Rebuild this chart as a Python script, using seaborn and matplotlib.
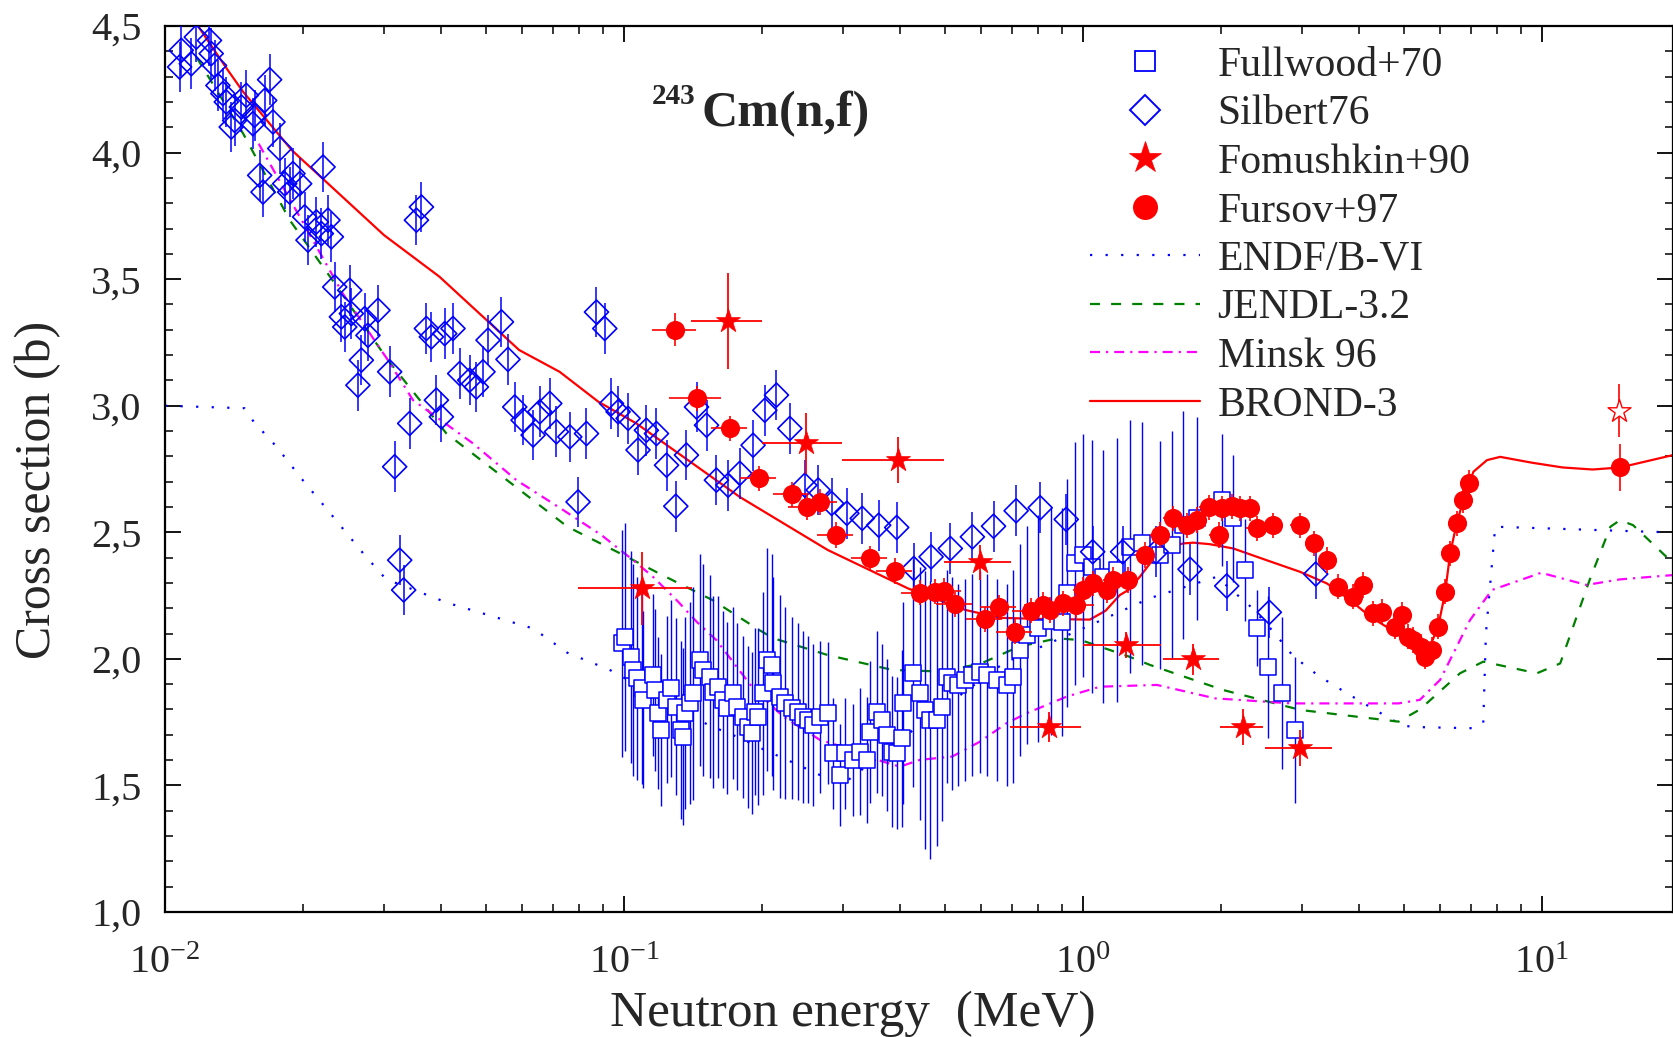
import numpy as np
import matplotlib
matplotlib.use("Agg")
import matplotlib.pyplot as plt
import seaborn as sns
from matplotlib.lines import Line2D
from matplotlib.ticker import LogLocator, MultipleLocator, FuncFormatter, NullFormatter

# ---------------------------------------------------------------- data (MeV, barn)
# Evaluated cross sections
endf_E = [0.01, 0.0149, 0.0156, 0.0175, 0.0201, 0.0223, 0.02465, 0.02725, 0.0303, 0.0413,
          0.0634, 0.0753, 0.0870, 0.0939, 0.1526, 0.1759, 0.2027, 0.2337, 0.2695, 0.3098,
          0.358, 0.441, 0.672, 1.00, 1.40, 1.956, 2.33, 2.60, 2.87, 3.26, 3.76, 4.33, 4.99,
          5.5, 7.09, 7.45, 7.55, 7.91, 17.2, 19.3]
endf_xs = [3.0, 2.99, 2.937, 2.838, 2.699, 2.601, 2.505, 2.409, 2.315, 2.221,
           2.12, 2.024, 1.978, 1.953, 1.739, 1.693, 1.64, 1.59, 1.538, 1.525,
           1.611, 1.739, 1.983, 2.12, 2.24, 2.324, 2.203, 2.107, 2.011, 1.933, 1.864, 1.798, 1.735,
           1.730, 1.726, 1.746, 2.10, 2.522, 2.502, 2.50]

jendl_E = [0.0117, 0.0148, 0.0187, 0.0229, 0.0306, 0.041, 0.0753, 0.098, 0.1215, 0.156,
           0.197, 0.212, 0.278, 0.385, 0.494, 0.60, 0.725, 0.879, 0.99, 1.26, 1.40, 2.02,
           2.98, 4.87, 5.42, 6.63, 7.45, 9.75, 10.96, 12.7, 14.1, 14.8, 15.8, 19.0, 19.3]
jendl_xs = [4.378, 4.075, 3.733, 3.509, 3.18, 2.891, 2.522, 2.417, 2.33, 2.232,
            2.114, 2.081, 2.015, 1.956, 1.95, 1.982, 2.048, 2.081, 2.074, 2.009, 1.976, 1.877,
            1.798, 1.752, 1.80, 1.943, 1.989, 1.943, 1.982, 2.311, 2.522, 2.548, 2.528, 2.39, 2.38]

minsk_E = [0.016, 0.0244, 0.0306, 0.0347, 0.0469, 0.0583, 0.0737, 0.0893, 0.1047, 0.1157,
           0.1312, 0.1439, 0.159, 0.1759, 0.1911, 0.2223, 0.2672, 0.2906, 0.3377, 0.399,
           0.4413, 0.5187, 0.5965, 0.682, 0.754, 0.922, 1.089, 1.45, 1.94, 2.85, 4.87, 5.42,
           6.0, 6.97, 7.78, 9.96, 12.5, 14.8, 19.3]
minsk_xs = [4.035, 3.443, 3.18, 3.022, 2.851, 2.706, 2.588, 2.489, 2.39, 2.324,
            2.226, 2.147, 2.074, 1.969, 1.884, 1.772, 1.68, 1.66, 1.614, 1.574,
            1.601, 1.614, 1.673, 1.746, 1.785, 1.851, 1.89, 1.897, 1.844, 1.824, 1.824, 1.838,
            1.917, 2.153, 2.272, 2.340, 2.292, 2.314, 2.331]

brond_E = [0.0118, 0.01365, 0.0148, 0.0189, 0.0300, 0.0396, 0.0591, 0.0724, 0.0879, 0.1064,
           0.1786, 0.278, 0.416, 0.555, 0.66, 0.80, 1.035, 1.12, 1.203, 1.256, 1.33, 1.40,
           1.47, 1.55, 1.654, 1.74, 1.89, 2.126, 2.51, 2.97, 3.40, 3.82, 4.23, 4.83, 5.42,
           5.70, 5.94, 6.15, 6.31, 6.52, 6.74, 7.09, 7.59, 8.11, 9.5, 11.1, 12.9, 14.8, 19.3]
brond_xs = [4.50, 4.33, 4.24, 4.009, 3.674, 3.51, 3.22, 3.134, 3.016, 2.930,
            2.640, 2.430, 2.278, 2.193, 2.162, 2.158, 2.155, 2.19, 2.252, 2.272, 2.324, 2.377,
            2.423, 2.443, 2.456, 2.459, 2.453, 2.436, 2.39, 2.344, 2.298, 2.232, 2.166, 2.101, 2.022,
            2.048, 2.127, 2.259, 2.417, 2.535, 2.627, 2.739, 2.785, 2.798, 2.775, 2.756, 2.748, 2.756, 2.805]

# Measurements
fullwood_E = [0.0988, 0.1004, 0.1038, 0.1047, 0.1065, 0.1092, 0.1101, 0.1157, 0.1167, 0.1187,
              0.1207, 0.1238, 0.1269, 0.1301, 0.1334, 0.1345, 0.1357, 0.1391, 0.1414, 0.1463,
              0.1487, 0.1538, 0.1564, 0.1604, 0.1644, 0.1673, 0.1729, 0.1759, 0.1818, 0.1865,
              0.1897, 0.1928, 0.1961, 0.2011, 0.2045, 0.2097, 0.2113, 0.2186, 0.2242, 0.2318,
              0.2396, 0.2457, 0.2519, 0.2583, 0.2672, 0.2786, 0.2857, 0.2954, 0.3029, 0.3157,
              0.3265, 0.3377, 0.3433, 0.3551, 0.3641, 0.3734, 0.3828, 0.3926, 0.4026, 0.4058,
              0.4267, 0.4413, 0.4525, 0.4640, 0.4798, 0.4920, 0.5046, 0.5174, 0.5348, 0.5532,
              0.5721, 0.5965, 0.6169, 0.6486, 0.6821, 0.7050, 0.7291, 0.7540, 0.80, 0.85,
              0.899, 0.922, 0.961, 1.002, 1.045, 1.107, 1.184, 1.266, 1.343, 1.472,
              1.561, 1.654, 1.769, 2.006, 2.126, 2.254, 2.391, 2.534, 2.711, 2.898]
fullwood_xs = [2.061, 2.087, 2.008, 1.956, 1.923, 1.884, 1.838, 1.936, 1.877, 1.785,
               1.719, 1.838, 1.884, 1.811, 1.719, 1.693, 1.785, 1.825, 1.864, 1.996,
               1.956, 1.930, 1.870, 1.890, 1.838, 1.805, 1.864, 1.811, 1.772, 1.732,
               1.706, 1.791, 1.772, 1.864, 1.996, 1.976, 1.903, 1.851, 1.825, 1.805,
               1.791, 1.772, 1.759, 1.739, 1.772, 1.787, 1.627, 1.541, 1.627, 1.601,
               1.634, 1.601, 1.712, 1.791, 1.759, 1.699, 1.634, 1.627, 1.686, 1.825,
               1.943, 1.864, 1.798, 1.759, 1.759, 1.811, 1.930, 1.903, 1.897, 1.917,
               1.936, 1.949, 1.936, 1.917, 1.897, 1.930, 2.035, 2.094, 2.12, 2.15,
               2.147, 2.259, 2.377, 2.410, 2.364, 2.324, 2.351, 2.443, 2.456, 2.410,
               2.449, 2.528, 2.555, 2.627, 2.555, 2.351, 2.121, 1.969, 1.864, 1.719]
fullwood_err = [0.45, 0.45, 0.42, 0.42, 0.40, 0.38, 0.35, 0.32, 0.32, 0.30,
                0.30, 0.33, 0.35, 0.35, 0.35, 0.35, 0.38, 0.40, 0.42, 0.42,
                0.42, 0.40, 0.38, 0.36, 0.35, 0.34, 0.34, 0.33, 0.32, 0.32,
                0.32, 0.33, 0.35, 0.40, 0.44, 0.44, 0.42, 0.40, 0.38, 0.36,
                0.35, 0.34, 0.33, 0.32, 0.30, 0.28, 0.22, 0.20, 0.22, 0.22,
                0.25, 0.25, 0.28, 0.32, 0.30, 0.30, 0.30, 0.30, 0.35, 0.40,
                0.45, 0.50, 0.55, 0.55, 0.50, 0.45, 0.42, 0.42, 0.40, 0.40,
                0.40, 0.40, 0.40, 0.40, 0.40, 0.42, 0.42, 0.43, 0.45, 0.45,
                0.45, 0.45, 0.48, 0.48, 0.50, 0.50, 0.52, 0.50, 0.48, 0.45,
                0.45, 0.45, 0.40, 0.26, 0.25, 0.20, 0.15, 0.28, 0.30, 0.29]

silbert_E = [0.01085, 0.01076, 0.01141, 0.01170, 0.0125, 0.01261, 0.01282, 0.01304, 0.01337, 0.0136,
             0.01418, 0.01394, 0.01504, 0.01467, 0.01567, 0.01554, 0.01649, 0.0169, 0.01719, 0.01778,
             0.01608, 0.01635, 0.0190, 0.01823, 0.01965, 0.01869, 0.0221, 0.02015, 0.02137, 0.02265,
             0.02049, 0.02304, 0.02191, 0.02343, 0.02526, 0.02423, 0.02464, 0.02547, 0.02723, 0.02911,
             0.02768, 0.03620, 0.03530, 0.03711, 0.03805, 0.04068, 0.04241, 0.05056, 0.05408, 0.08711,
             0.09082, 0.02678, 0.03087, 0.02632, 0.03902, 0.04001, 0.03413, 0.03165, 0.03246, 0.03311,
             0.04386, 0.04611, 0.04769, 0.04930, 0.05588, 0.05781, 0.06028, 0.06339, 0.06555, 0.06892,
             0.07127, 0.07620, 0.08285, 0.07943, 0.09393, 0.09710, 0.1021, 0.1073, 0.1119, 0.1177,
             0.1238, 0.1368, 0.1439, 0.1513, 0.1590, 0.1686, 0.1788, 0.1911, 0.2027, 0.2149,
             0.2298, 0.1297, 0.2478, 0.2649, 0.2834, 0.3059, 0.3304, 0.3589, 0.3928, 0.4281,
             0.4668, 0.5141, 0.5743, 0.6385, 0.7152, 0.8069, 0.9196, 1.050, 1.220, 1.443,
             1.711, 2.057, 2.547, 3.215]
silbert_xs = [4.404, 4.338, 4.351, 4.456, 4.443, 4.391, 4.344, 4.265, 4.233, 4.200,
              4.127, 4.101, 4.226, 4.180, 4.147, 4.114, 4.206, 4.288, 4.121, 4.016,
              3.910, 3.844, 3.917, 3.877, 3.877, 3.844, 3.943, 3.746, 3.726, 3.733,
              3.654, 3.667, 3.680, 3.469, 3.456, 3.351, 3.311, 3.364, 3.344, 3.377,
              3.278, 3.785, 3.733, 3.305, 3.272, 3.285, 3.305, 3.259, 3.331, 3.370,
              3.305, 3.180, 3.134, 3.081, 3.022, 2.956, 2.930, 2.759, 2.390, 2.272,
              3.127, 3.101, 3.074, 3.134, 3.183, 2.995, 2.943, 2.884, 2.976, 3.009,
              2.897, 2.877, 2.890, 2.620, 3.009, 2.976, 2.950, 2.825, 2.903, 2.890,
              2.765, 2.805, 2.995, 2.923, 2.706, 2.686, 2.733, 2.844, 2.982, 3.042,
              2.910, 2.603, 2.686, 2.667, 2.614, 2.575, 2.555, 2.528, 2.519, 2.357,
              2.403, 2.436, 2.482, 2.524, 2.585, 2.597, 2.551, 2.423, 2.423, 2.423,
              2.354, 2.288, 2.184, 2.335]
silbert_err = 0.1

fomushkin_E = [0.1095, 0.1687, 0.249, 0.396, 0.596, 0.845, 1.241, 1.734, 2.23, 2.97]
fomushkin_xs = [2.279, 3.334, 2.851, 2.785, 2.381, 1.732, 2.055, 1.998, 1.730, 1.647]
fomushkin_Elo = [0.0796, 0.140, 0.2003, 0.2985, 0.499, 0.695, 1.00, 1.496, 1.99, 2.49]
fomushkin_Ehi = [0.1406, 0.1995, 0.2985, 0.498, 0.696, 0.992, 1.48, 1.977, 2.47, 3.48]
fomushkin_err = [0.145, 0.19, 0.12, 0.09, 0.07, 0.06, 0.05, 0.06, 0.07, 0.07]
fomushkin14_E, fomushkin14_xs, fomushkin14_err = [14.7], [2.980], [0.105]

fursov_E = [0.129, 0.144, 0.170, 0.197, 0.232, 0.250, 0.267, 0.290, 0.344, 0.389,
            0.441, 0.476, 0.497, 0.527, 0.611, 0.657, 0.710, 0.769, 0.818, 0.847,
            0.906, 0.968, 1.000, 1.052, 1.127, 1.164, 1.256, 1.365, 1.472, 1.574,
            1.683, 1.770, 1.885, 1.978, 2.005, 2.108, 2.198, 2.31, 2.39, 2.60,
            2.97, 3.18, 3.40, 3.60, 3.88, 4.08, 4.29, 4.48, 4.78, 4.95,
            5.10, 5.25, 5.44, 5.56, 5.75, 5.94, 6.15, 6.31, 6.52, 6.72,
            6.92, 14.8]
fursov_xs = [3.301, 3.029, 2.910, 2.713, 2.650, 2.598, 2.620, 2.489, 2.397, 2.347,
             2.261, 2.265, 2.269, 2.216, 2.156, 2.203, 2.107, 2.190, 2.213, 2.193,
             2.219, 2.213, 2.272, 2.298, 2.272, 2.312, 2.312, 2.41, 2.489, 2.555,
             2.528, 2.548, 2.598, 2.489, 2.594, 2.603, 2.594, 2.594, 2.515, 2.528,
             2.528, 2.456, 2.39, 2.285, 2.245, 2.292, 2.18, 2.186, 2.127, 2.173,
             2.087, 2.074, 2.048, 2.008, 2.035, 2.127, 2.265, 2.417, 2.535, 2.627,
             2.695, 2.756]
fursov_err = [0.065] + [0.05] * 60 + [0.092]
# relative half-width of the neutron energy bins
fursov_rel_dE = [0.11, 0.13] + [0.09] * 20 + [0.05] * 19 + [0.0] * 21

x_ticks = [0.01, 0.1, 1, 10]
y_ticks = [1.0, 1.5, 2.0, 2.5, 3.0, 3.5, 4.0, 4.5]

# ---------------------------------------------------------------- style
sns.set_theme(style="ticks")
plt.rcParams["font.family"] = ["Liberation Serif", "DejaVu Serif"]
plt.rcParams["mathtext.fontset"] = "custom"
plt.rcParams["mathtext.rm"] = "Liberation Serif"
plt.rcParams["mathtext.it"] = "Liberation Serif:italic"
plt.rcParams["mathtext.bf"] = "Liberation Serif:bold"

BLUE, RED, GREEN, MAGENTA = "#0000FF", "#FF0000", "#008000", "#FF00FF"
LW = 1.6

fig = plt.figure(figsize=(16.73, 10.37), dpi=100)
ax = fig.add_axes([165 / 1673, 1 - 912 / 1037, 1 - 165 / 1673, 886 / 1037])
ax.set_xscale("log")
ax.set_xlim(0.01, 19.3)
ax.set_ylim(1.0, 4.5)

# evaluations
sns.lineplot(x=endf_E, y=endf_xs, ax=ax, color=BLUE, linewidth=LW, linestyle=(0, (1, 6)),
             sort=False, estimator=None, zorder=2)
sns.lineplot(x=jendl_E, y=jendl_xs, ax=ax, color=GREEN, linewidth=LW, linestyle=(0, (4.5, 5)),
             sort=False, estimator=None, zorder=2)
sns.lineplot(x=minsk_E, y=minsk_xs, ax=ax, color=MAGENTA, linewidth=LW,
             linestyle=(0, (4.5, 2.7, 1, 2.7)), sort=False, estimator=None, zorder=2)
sns.lineplot(x=brond_E, y=brond_xs, ax=ax, color=RED, linewidth=LW, sort=False,
             estimator=None, zorder=2.1)

# Fullwood+70
ax.errorbar(fullwood_E, fullwood_xs, yerr=fullwood_err, fmt="none", ecolor=BLUE,
            elinewidth=1.0, capsize=0, zorder=3)
sns.scatterplot(x=fullwood_E, y=fullwood_xs, ax=ax, marker="s", s=135, color="white",
                edgecolor=BLUE, linewidth=1.1, zorder=3.2)

# Silbert76
ax.errorbar(silbert_E, silbert_xs, yerr=silbert_err, fmt="none", ecolor=BLUE,
            elinewidth=1.1, capsize=0, zorder=3.4)
sns.scatterplot(x=silbert_E, y=silbert_xs, ax=ax, marker="D", s=150, color="none",
                edgecolor=BLUE, linewidth=1.2, zorder=3.5)

# Fomushkin+90
fe = np.array(fomushkin_E)
ax.errorbar(fomushkin_E, fomushkin_xs,
            xerr=[fe - np.array(fomushkin_Elo), np.array(fomushkin_Ehi) - fe],
            yerr=fomushkin_err, fmt="none", ecolor=RED, elinewidth=1.3, capsize=0, zorder=4)
sns.scatterplot(x=fomushkin_E, y=fomushkin_xs, ax=ax, marker="*", s=330, color=RED,
                edgecolor=RED, linewidth=0.5, zorder=4.2)
ax.errorbar(fomushkin14_E, fomushkin14_xs, yerr=fomushkin14_err, fmt="none", ecolor=RED,
            elinewidth=1.2, capsize=0, zorder=4)
sns.scatterplot(x=fomushkin14_E, y=fomushkin14_xs, ax=ax, marker="*", s=300, color="white",
                edgecolor=RED, linewidth=1.0, zorder=4.2)

# Fursov+97
fu = np.array(fursov_E)
ax.errorbar(fursov_E, fursov_xs, xerr=fu * np.array(fursov_rel_dE), yerr=fursov_err,
            fmt="none", ecolor=RED, elinewidth=1.2, capsize=0, zorder=4.5)
sns.scatterplot(x=fursov_E, y=fursov_xs, ax=ax, marker="o", s=190, color=RED,
                edgecolor=RED, linewidth=0, zorder=4.6)

# ---------------------------------------------------------------- axes
for side in ["left", "right", "top", "bottom"]:
    ax.spines[side].set_visible(True)
    ax.spines[side].set_linewidth(1.6)
    ax.spines[side].set_color("black")

ax.set_xticks(x_ticks)
ax.xaxis.set_minor_locator(LogLocator(base=10, subs=np.arange(2, 10)))
ax.xaxis.set_minor_formatter(NullFormatter())
ax.set_xticklabels([rf"$10^{{{int(np.log10(v))}}}$" for v in x_ticks])
ax.set_yticks(y_ticks)
ax.yaxis.set_minor_locator(MultipleLocator(0.1))
ax.yaxis.set_major_formatter(FuncFormatter(lambda v, p: f"{v:.1f}".replace(".", ",")))

ax.tick_params(which="both", direction="in", top=True, right=True, color="black")
ax.tick_params(which="major", length=11.5, width=1.3, labelsize=29)
ax.tick_params(which="minor", length=5.5, width=1.1)
ax.tick_params(axis="x", which="major", pad=24)
ax.tick_params(axis="y", which="major", pad=17)

ax.set_xlabel("Neutron energy  (MeV)", fontsize=37)
ax.xaxis.set_label_coords(0.456, -0.089)
ax.set_ylabel("Cross section (b)", fontsize=36)
ax.yaxis.set_label_coords(-0.069, 0.477)

# reaction label
fig.text(651.7 / 1673, 1 - 104 / 1037, "243", fontsize=21, fontweight="bold",
         va="baseline", ha="left")
fig.text(701 / 1673, 1 - 126 / 1037, "Cm(n,f)", fontsize=36, fontweight="bold",
         va="baseline", ha="left")

# legend
handles = [
    Line2D([], [], ls="none", marker="s", ms=15, mfc="white", mec=BLUE, mew=1.3),
    Line2D([], [], ls="none", marker="D", ms=15, mfc="none", mec=BLUE, mew=1.4),
    Line2D([], [], ls="none", marker="*", ms=24, mfc=RED, mec=RED, mew=0.5),
    Line2D([], [], ls="none", marker="o", ms=18, mfc=RED, mec=RED, mew=0),
    Line2D([], [], color=BLUE, lw=LW, ls=(0, (1, 6))),
    Line2D([], [], color=GREEN, lw=LW, ls=(0, (4.5, 5))),
    Line2D([], [], color=MAGENTA, lw=LW, ls=(0, (4.5, 2.7, 1, 2.7))),
    Line2D([], [], color=RED, lw=LW),
]
labels = ["Fullwood+70", "Silbert76", "Fomushkin+90", "Fursov+97",
          "ENDF/B-VI", "JENDL-3.2", "Minsk 96", "BROND-3"]
ax.legend(handles, labels, loc="upper left", bbox_to_anchor=(1090 / 1673, 1 - 46.5 / 1037),
          bbox_transform=fig.transFigure, frameon=False, fontsize=30, handlelength=2.64,
          handletextpad=0.42, labelspacing=0.24, borderpad=0, borderaxespad=0)

fig.savefig("out.png", dpi=100)
